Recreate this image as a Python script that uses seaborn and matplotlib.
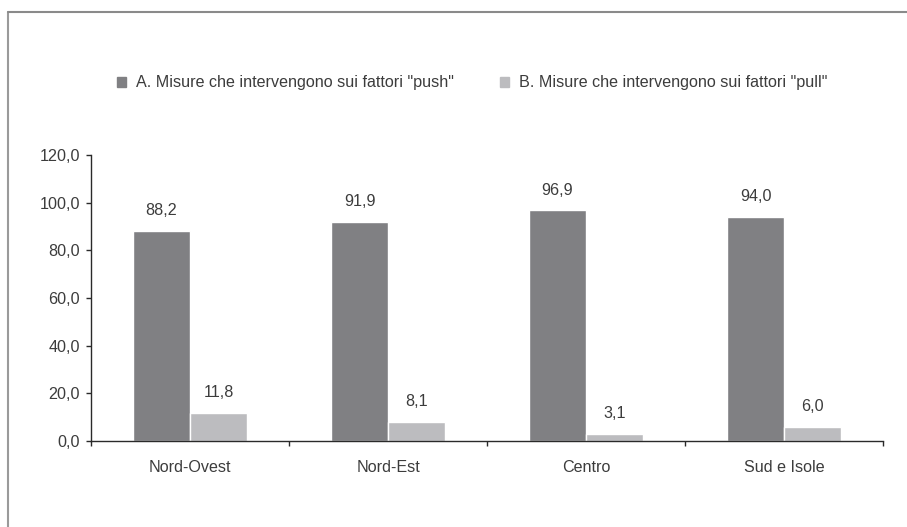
import matplotlib
matplotlib.use('Agg')
import matplotlib.pyplot as plt
import pandas as pd
import seaborn as sns
from matplotlib.lines import Line2D
from matplotlib.ticker import FuncFormatter, FixedLocator

# data
regioni = ['Nord-Ovest', 'Nord-Est', 'Centro', 'Sud e Isole']
serie = ['A. Misure che intervengono sui fattori "push"',
         'B. Misure che intervengono sui fattori "pull"']
push = [88.2, 91.9, 96.9, 94.0]
pull = [11.8, 8.1, 3.1, 6.0]
colori = ['#808083', '#bcbcbf']

df = pd.DataFrame({
    'regione': regioni * 2,
    'serie': [serie[0]] * 4 + [serie[1]] * 4,
    'valore': push + pull,
})

sns.set_style('white')
plt.rcParams['font.family'] = ['Liberation Sans', 'DejaVu Sans']
txt = '#3c3c3c'
fs = 11.6

fig = plt.figure(figsize=(9.07, 5.27), dpi=100)
ax = fig.add_axes([91 / 907, 1 - 441 / 527, 792 / 907, 286 / 527])

sns.barplot(data=df, x='regione', y='valore', hue='serie', palette=colori,
            width=0.575, gap=0, saturation=1, ax=ax, legend=False)

for c in ax.containers:
    ax.bar_label(c, labels=[f'{v:.1f}'.replace('.', ',') for v in c.datavalues],
                 padding=9, fontsize=fs, color=txt)

ax.set_ylim(0, 120)
ax.set_xlim(-0.5, 3.5)
ax.set_yticks(range(0, 121, 20))
ax.yaxis.set_major_formatter(FuncFormatter(lambda v, p: f'{v:.1f}'.replace('.', ',')))
ax.set_xlabel('')
ax.set_ylabel('')

for s in ['top', 'right']:
    ax.spines[s].set_visible(False)
for s in ['left', 'bottom']:
    ax.spines[s].set_color('#2a2a2a')
    ax.spines[s].set_linewidth(1.0)

ax.tick_params(axis='y', left=True, length=3.6, width=1, color='#2a2a2a',
               labelsize=fs, labelcolor=txt, pad=4.3)
ax.tick_params(axis='x', which='major', bottom=False, labelsize=fs,
               labelcolor=txt, pad=10)
ax.xaxis.set_minor_locator(FixedLocator([-0.5, 0.5, 1.5, 2.5, 3.5]))
ax.tick_params(axis='x', which='minor', bottom=True, length=3.6, width=1,
               color='#2a2a2a')

handles = [plt.Rectangle((0, 0), 1, 1, color=c) for c in colori]
fig.legend(handles, serie, loc='center', bbox_to_anchor=(472 / 907, 1 - 83 / 527),
           ncol=2, frameon=False, fontsize=fs, handlelength=0.55,
           handleheight=0.55, handletextpad=0.6, columnspacing=2.9,
           labelcolor=txt, borderaxespad=0, borderpad=0)

# cornice
fig.add_artist(Line2D([8 / 907, 8 / 907], [0, 1 - 12 / 527],
                      color='#9a9a9a', lw=1.5, transform=fig.transFigure))
fig.add_artist(Line2D([8 / 907, 1], [1 - 12 / 527, 1 - 12 / 527],
                      color='#8a8a8a', lw=1.5, transform=fig.transFigure))

fig.savefig('out.png', dpi=100)
